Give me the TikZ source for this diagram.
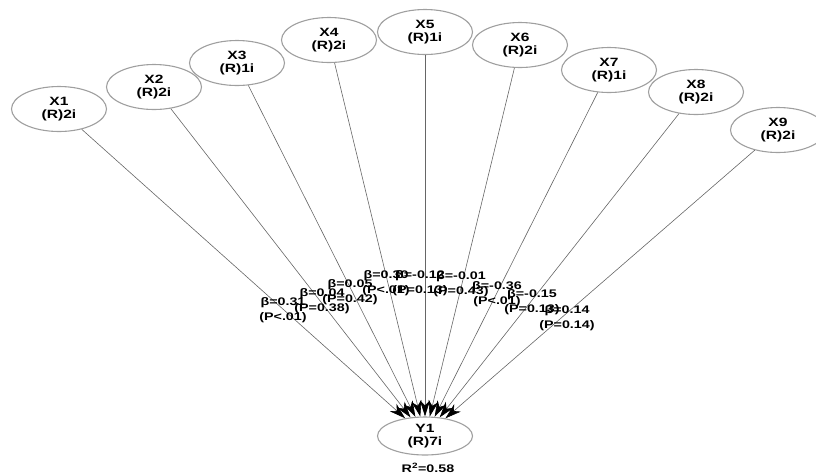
\documentclass[tikz,border=0pt]{standalone}
\usepackage{fontspec}
\setmainfont{Liberation Sans}[FakeStretch=1.3]
\usetikzlibrary{shapes.geometric,arrows.meta}
\begin{document}
\begin{tikzpicture}[x=1pt,y=-1pt,
  var/.style={ellipse,draw=gray!75,line width=1.1pt,minimum width=95pt,minimum height=45pt,inner sep=0pt,align=center,font=\fontsize{12}{12.5}\selectfont\bfseries},
  path/.style={draw=gray!80!black,line width=0.6pt,-{Stealth[length=16pt,width=10pt,inset=5pt,color=black]}},
  coef/.style={align=center,inner sep=0pt,font=\fontsize{11}{15}\selectfont\bfseries}]
\useasboundingbox (0,0) rectangle (816,475);
\node[var] (X1) at (59,109) {X1\\(R)2i};
\node[var] (X2) at (154,87) {X2\\(R)2i};
\node[var] (X3) at (237,63) {X3\\(R)1i};
\node[var] (X4) at (329,40) {X4\\(R)2i};
\node[var] (X5) at (425,32) {X5\\(R)1i};
\node[var] (X6) at (520,45) {X6\\(R)2i};
\node[var] (X7) at (609,70) {X7\\(R)1i};
\node[var] (X8) at (696,92) {X8\\(R)2i};
\node[var] (X9) at (778,130) {X9\\(R)2i};
\node[var,minimum height=38pt] (Y1) at (425,436) {Y1\\(R)7i};
\node[coef] (R) at (428,468) {R\textsuperscript{2}=0.58};

\draw[path] (X1) -- (Y1);
\draw[path] (X2) -- (Y1);
\draw[path] (X3) -- (Y1);
\draw[path] (X4) -- (Y1);
\draw[path] (X5) -- (Y1);
\draw[path] (X6) -- (Y1);
\draw[path] (X7) -- (Y1);
\draw[path] (X8) -- (Y1);
\draw[path] (X9) -- (Y1);

\node[coef] (L1) at (283,310) {β=0.31\\(P<.01)};
\node[coef] (L2) at (322,301) {β=0.04\\(P=0.38)};
\node[coef] (L3) at (350,292) {β=0.05\\(P=0.42)};
\node[coef] (L4) at (386,283) {β=0.30\\(P<.01)};
\node[coef] (L5) at (420,283) {β=-0.12\\(P=0.13)};
\node[coef] (L6) at (461,284) {β=-0.01\\(P=0.43)};
\node[coef] (L7) at (497,294) {β=-0.36\\(P<.01)};
\node[coef] (L8) at (532,302) {β=-0.15\\(P=0.13)};
\node[coef] (L9) at (567,318) {β=0.14\\(P=0.14)};
\end{tikzpicture}
\end{document}
